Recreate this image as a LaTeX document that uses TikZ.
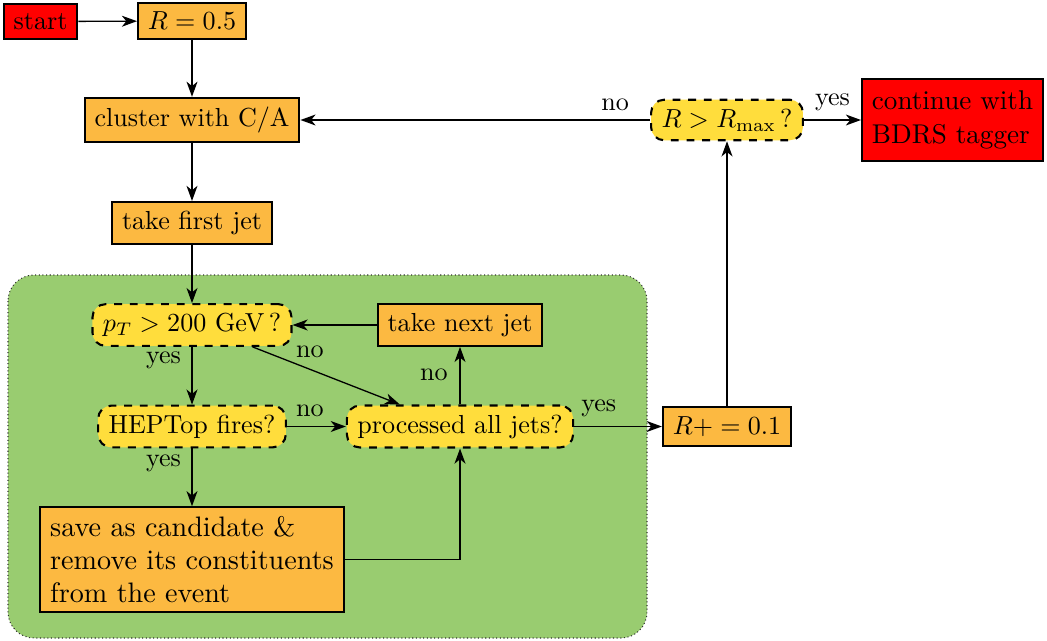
\documentclass[tikz,border=0pt]{standalone}
\usetikzlibrary{arrows.meta,calc}
\definecolor{boxorange}{RGB}{252,185,65}
\definecolor{decyellow}{RGB}{255,221,60}
\definecolor{regiongreen}{RGB}{153,204,112}
\definecolor{boxred}{RGB}{255,0,0}
\begin{document}
\begin{tikzpicture}[x=0.3836pt,y=-0.3836pt,
  proc/.style={draw, thick, fill=boxorange, inner xsep=3.8pt, inner ysep=3.5pt},
  endbox/.style={draw, thick, fill=boxred, inner xsep=3.8pt, inner ysep=3.5pt},
  decision/.style={draw, thick, dashed, rounded corners=5pt, fill=decyellow, inner xsep=4pt, inner ysep=3.5pt},
  conn/.style={-{Stealth[length=5.8pt,width=4.2pt,inset=1.7pt]}, line width=0.5pt},
  lbl/.style={inner sep=1pt}]
\useasboundingbox (0,0) rectangle (1047,640);
\fill[regiongreen, rounded corners=10pt] (8,275) rectangle (647,638);
\draw[densely dotted, black!80, line width=0.4pt, rounded corners=10pt] (8,275) rectangle (647,638);

\node[endbox] (start) at (40.5,21.5) {start};
\node[proc] (r05) at (192,21) {$R=0.5$};
\node[proc] (cluster) at (192,120) {cluster with C/A};
\node[proc] (first) at (192,223) {take first jet};
\node[decision] (pt) at (192,325) {$p_T > 200$ GeV\,?};
\node[proc] (next) at (460,325) {take next jet};
\node[decision] (hep) at (192,426.5) {HEPTop fires?};
\node[decision] (proc) at (460,426.5) {processed all jets?};
\node[proc, align=left, font=\fontsize{10.8}{12.8}\selectfont, inner ysep=3.3pt] (save) at (192,559.5) {save as candidate \&\\remove its constituents\\from the event};
\node[proc] (rinc) at (727,426.5) {$R+=0.1$};
\node[decision] (rmax) at (727,120) {$R>R_{\max}$\,?};
\node[endbox, align=left, font=\fontsize{10.4}{12.8}\selectfont, inner ysep=4.6pt] (cont) at (952.5,120) {continue with\\BDRS tagger};

\coordinate (ptse) at ($(pt.south east)+(-40,0)$);
\coordinate (pn) at ($(proc.north west)+(54,0)$);

\draw[conn] (start) -- (r05);
\draw[conn] (r05) -- (cluster);
\draw[conn] (cluster) -- (first);
\draw[conn] (first) -- (pt);
\draw[conn] (pt) -- node[lbl, left=3pt, pos=0.23] {yes} (hep);
\draw[conn] (ptse) -- node[lbl, above=3pt, pos=0.39] {no} (pn);
\draw[conn] (hep) -- node[lbl, above=2.6pt, pos=0.39] {no} (proc);
\draw[conn] (hep) -- node[lbl, left=3pt, pos=0.25] {yes} (save);
\draw[conn] (save.east) -| (proc.south);
\draw[conn] (proc) -- node[lbl, left=3.5pt, pos=0.52] {no} (next);
\draw[conn] (next) -- (pt);
\draw[conn] (proc) -- node[lbl, above=2.6pt, pos=0.28] {yes} (rinc);
\draw[conn] (rinc) -- (rmax);
\draw[conn] (rmax) -- node[lbl, above=2.2pt, pos=0.1] {no} (cluster);
\draw[conn] (rmax) -- node[lbl, above=2.3pt] {yes} (cont);
\end{tikzpicture}
\end{document}
